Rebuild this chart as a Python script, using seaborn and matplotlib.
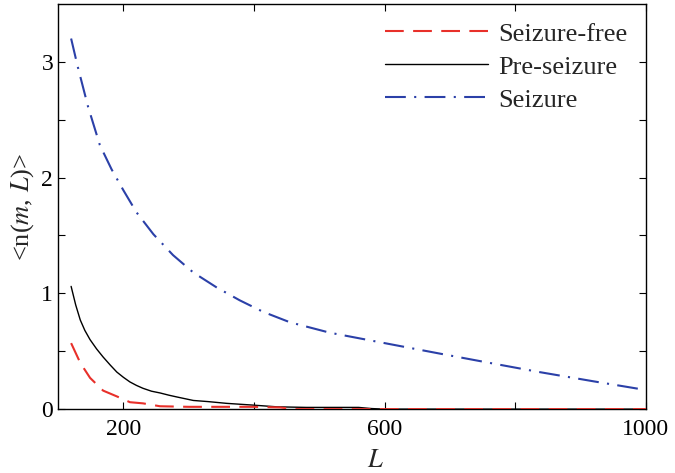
import numpy as np
import pandas as pd
import matplotlib
matplotlib.use("Agg")
import matplotlib.pyplot as plt
import seaborn as sns
from matplotlib.ticker import FixedLocator

# values
free_L = [120, 134, 149, 169, 190, 210, 230, 256, 300, 350, 400, 440, 460, 500, 600, 700, 800, 900, 1000]
free_n = [0.57, 0.40, 0.27, 0.16, 0.11, 0.06, 0.05, 0.025, 0.02, 0.02, 0.02, 0.015, 0.0, 0, 0, 0, 0, 0, 0]

pre_L = [120, 127, 134, 141, 149, 159, 169, 180, 190, 200, 210, 220, 230, 243, 256, 270, 282, 307, 330, 358, 398, 435, 480, 520, 560, 580, 600, 700, 800, 900, 1000]
pre_n = [1.06, 0.90, 0.77, 0.68, 0.60, 0.52, 0.45, 0.38, 0.32, 0.275, 0.235, 0.205, 0.18, 0.155, 0.14, 0.12, 0.105, 0.075, 0.065, 0.05, 0.035, 0.02, 0.015, 0.015, 0.015, 0.005, 0, 0, 0, 0, 0]

sz_L = [120, 130, 146, 164, 182, 200, 220, 246, 276, 307, 343, 378, 414, 455, 516, 600, 684, 760, 837, 920, 1000]
sz_n = [3.2, 2.96, 2.61, 2.28, 2.07, 1.89, 1.70, 1.51, 1.33, 1.18, 1.05, 0.94, 0.84, 0.75, 0.66, 0.57, 0.48, 0.40, 0.32, 0.24, 0.165]

df = pd.concat([
    pd.DataFrame({'L': free_L, 'n': free_n, 'state': 'Seizure-free'}),
    pd.DataFrame({'L': pre_L, 'n': pre_n, 'state': 'Pre-seizure'}),
    pd.DataFrame({'L': sz_L, 'n': sz_n, 'state': 'Seizure'}),
])

sns.set_style("ticks")
plt.rcParams['font.family'] = ['Liberation Serif', 'DejaVu Serif']
plt.rcParams['mathtext.fontset'] = 'stix'

fig = plt.figure(figsize=(6.75, 4.73), dpi=100)
ax = fig.add_axes([0.086, 0.135, 0.871, 0.857])

styles = {
    'Seizure-free': dict(color='#e8302a', lw=1.5, dashes=(9, 4.5), z=4),
    'Pre-seizure': dict(color='black', lw=1.0, dashes=None, z=3),
    'Seizure': dict(color='#2b40a8', lw=1.5, dashes=(10, 4, 1, 4), z=3),
}
for name, st in styles.items():
    sub = df[df['state'] == name]
    sns.lineplot(data=sub, x='L', y='n', ax=ax, color=st['color'],
                 lw=st['lw'], label=name, zorder=st['z'])
    l = ax.get_lines()[-1]
    if st['dashes'] is not None:
        l.set_dashes(st['dashes'])

ax.set_xlim(100, 1000)
ax.set_ylim(0, 3.5)
ax.xaxis.set_major_locator(FixedLocator([200, 600, 1000]))
ax.xaxis.set_minor_locator(FixedLocator([400, 800]))
ax.yaxis.set_major_locator(FixedLocator([0, 1, 2, 3]))
ax.yaxis.set_minor_locator(FixedLocator([0.5, 1.5, 2.5]))
ax.tick_params(which='both', direction='in', top=True, right=True,
               length=5, width=0.8, labelsize=17, colors='black')
ax.tick_params(axis='x', pad=7)
for s in ax.spines.values():
    s.set_linewidth(1.0)
    s.set_color('black')

ax.set_xlabel('$L$', fontsize=19, labelpad=6)
ax.xaxis.set_label_coords(0.54, -0.1)
ax.set_ylabel('<n($m$, $L$)>', fontsize=19, labelpad=4)

ax.legend(loc='upper right', frameon=False, fontsize=19, handlelength=3.9,
          handletextpad=0.4, labelspacing=0.36, borderaxespad=0.3)

fig.savefig('out.png', dpi=100)
